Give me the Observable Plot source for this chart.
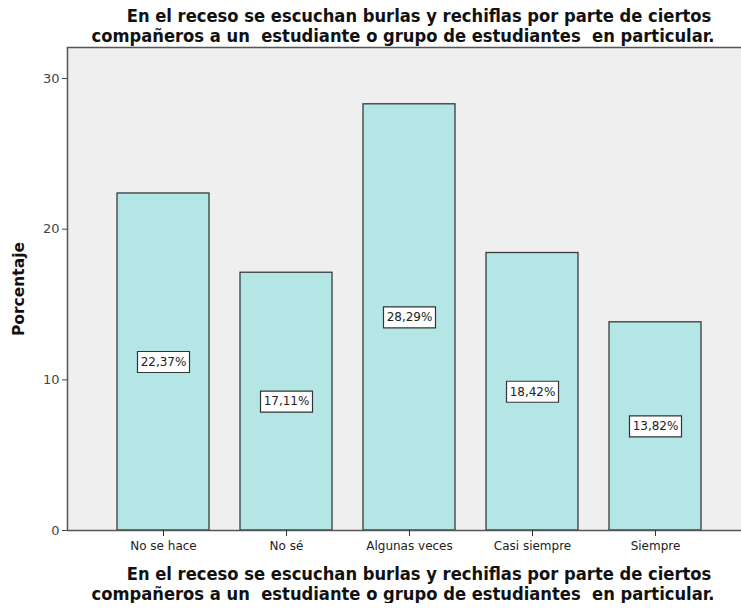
<!DOCTYPE html>
<html>
<head>
<meta charset="utf-8">
<script src="https://cdn.jsdelivr.net/npm/d3@7"></script>
<script src="https://cdn.jsdelivr.net/npm/@observablehq/plot@0.6"></script>
<style>
  body { margin: 0; background: white; width: 741px; overflow: hidden; }
  .title { font-family: "DejaVu Sans Condensed", "DejaVu Sans", sans-serif; font-stretch: condensed; font-weight: bold; font-size: 18.2px; color: #111; }
  .title div { text-align: center; white-space: pre; line-height: 19.5px; }
  .title .l1 { width: 838px; }
  .title .l2 { width: 806px; }
  #top { padding-top: 6px; height: 39px; }
  #bottom { padding-top: 4px; }
  svg { display: block; }
</style>
</head>
<body>
<div class="title" id="top"></div>
<div id="chart"></div>
<div class="title" id="bottom"></div>
<script>
const titleLines = [
  "En el receso se escuchan burlas y rechiflas por parte de ciertos",
  "compañeros a un  estudiante o grupo de estudiantes  en particular."
];
const categories = ["No se hace", "No sé", "Algunas veces", "Casi siempre", "Siempre"];
const values = [22.37, 17.11, 28.29, 18.42, 13.82];
const valueLabels = ["22,37%", "17,11%", "28,29%", "18,42%", "13,82%"];
const yTicks = [0, 10, 20, 30];
const yLabel = "Porcentaje";

for (const id of ["top", "bottom"]) {
  const el = document.getElementById(id);
  titleLines.forEach((t, i) => {
    const d = document.createElement("div");
    d.className = "l" + (i + 1);
    d.textContent = t;
    el.appendChild(d);
  });
}

const data = categories.map((c, i) => ({cat: c, value: values[i], label: valueLabels[i]}));

const boxSymbol = {
  draw(context) {
    context.moveTo(-26, -10.5);
    context.lineTo(26, -10.5);
    context.lineTo(26, 10.5);
    context.lineTo(-26, 10.5);
    context.closePath();
  }
};

const chart = Plot.plot({
  width: 741,
  height: 515,
  marginTop: 2,
  marginLeft: 67,
  marginRight: 0,
  marginBottom: 30,
  style: {fontFamily: "DejaVu Sans, sans-serif", fontSize: "11px", color: "#333", background: "white"},
  x: {domain: categories, range: [67, 750], paddingInner: 0.2535, paddingOuter: 0.3976, align: 0.5, axis: null},
  y: {domain: [0, 32.06], axis: null},
  marks: [
    Plot.frame({fill: "#efefef"}),
    Plot.barY(data, {x: "cat", y: "value", fill: "#b4e6e6", stroke: "#3a3a3a", strokeWidth: 1.3}),
    Plot.dot(data, {x: "cat", y: d => d.value / 2, symbol: boxSymbol, fill: "white", stroke: "#333", strokeWidth: 1.2}),
    Plot.text(data, {x: "cat", y: d => d.value / 2, text: "label", fontSize: 12, fill: "#222"}),
    Plot.frame({stroke: "#555", strokeWidth: 1.5, insetRight: -4}),
    Plot.axisY({ticks: yTicks, tickSize: 5, tickPadding: 3, fontSize: 13, label: null, stroke: "#444", fill: "#444"}),
    Plot.axisX({tickSize: 6, tickPadding: 5, fontSize: 12, label: null, fill: "#222"}),
    Plot.text([yLabel], {frameAnchor: "left", dx: -48, rotate: -90, textAnchor: "middle", fontWeight: "bold", fontSize: 15.5, fill: "#111"})
  ]
});
document.getElementById("chart").appendChild(chart);
</script>
</body>
</html>
